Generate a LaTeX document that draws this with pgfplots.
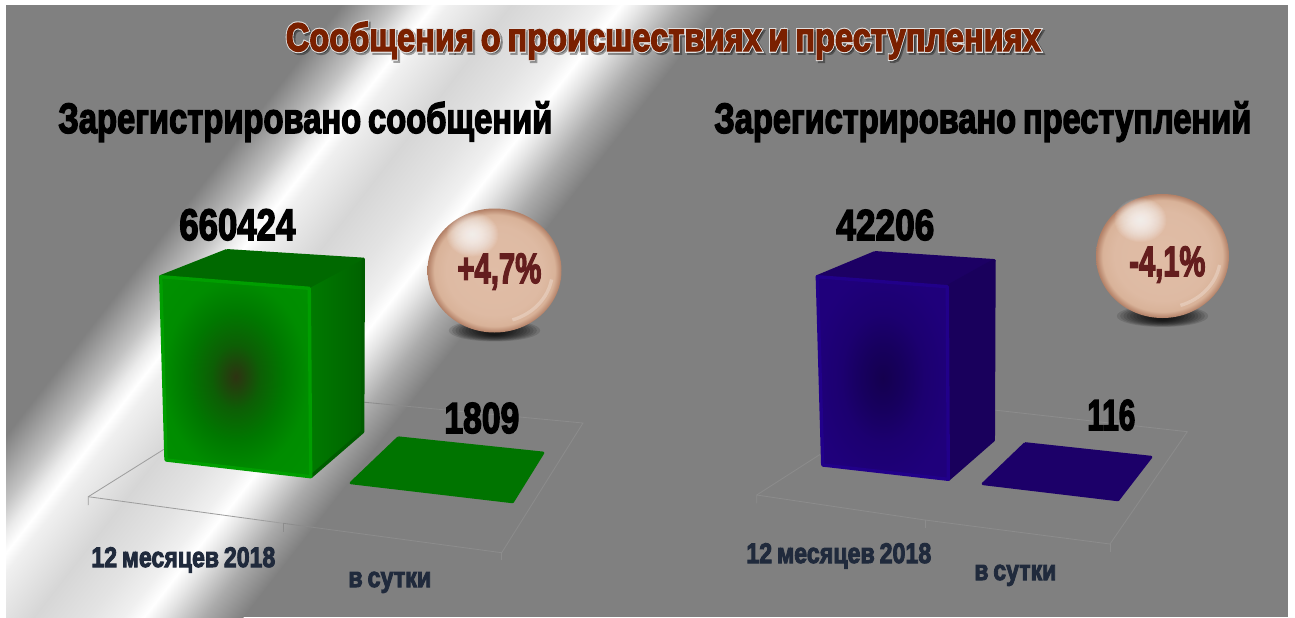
\documentclass[border=0pt]{standalone}
\usepackage{graphicx}
\usepackage{fontspec}
\usepackage{pgfplots}
\pgfplotsset{compat=1.18}
\newfontfamily\imp[UprightFont={* Bold},FakeBold=3.6,WordSpace=0.75]{Liberation Sans}
\newfontfamily\impo[UprightFont={* Bold},FakeBold=9,WordSpace=0.75]{Liberation Sans}

\definecolor{greenfront}{RGB}{0,122,0}
\definecolor{greentop}{RGB}{0,105,0}
\definecolor{greenside}{RGB}{0,98,0}
\definecolor{greenedge}{RGB}{0,158,0}
\definecolor{greendark}{RGB}{0,92,0}
\definecolor{greenflat}{RGB}{0,116,0}
\definecolor{bluetop}{RGB}{28,0,100}
\definecolor{blueside}{RGB}{25,0,92}
\definecolor{blueedge}{RGB}{33,0,138}
\definecolor{blueflat}{RGB}{28,0,105}
\definecolor{bg}{RGB}{128,128,128}
\definecolor{floorlight}{RGB}{158,158,158}
\definecolor{floorfaint}{RGB}{140,140,140}
\definecolor{navy}{RGB}{32,42,60}
\definecolor{rust}{RGB}{122,32,0}
\definecolor{wine}{RGB}{100,30,30}

% gradient stripe behind everything, 25bp..75bp is the visible range
\pgfdeclarehorizontalshading{sheen}{100bp}{
  rgb(0bp)=(.5,.5,.5); rgb(25bp)=(.5,.5,.5); rgb(31.85bp)=(.765,.765,.765);
  rgb(34.85bp)=(.92,.92,.92); rgb(37.1bp)=(1,1,1); rgb(39.1bp)=(.94,.94,.94);
  rgb(47.35bp)=(.84,.84,.84); rgb(54.6bp)=(.89,.89,.89); rgb(59.2bp)=(.94,.94,.94);
  rgb(61.85bp)=(1,1,1); rgb(64.45bp)=(.9,.9,.9); rgb(69.75bp)=(.67,.67,.67);
  rgb(75bp)=(.5,.5,.5); rgb(100bp)=(.5,.5,.5)}
\pgfdeclareradialshading{greenglow}{\pgfpointorigin}{
  rgb(0bp)=(.18,.2,.07); rgb(3bp)=(.13,.26,.05); rgb(8bp)=(.05,.37,.02);
  rgb(16bp)=(0,.47,0); rgb(24bp)=(0,.55,0); rgb(50bp)=(0,.59,0)}
\pgfdeclareradialshading{blueglow}{\pgfpointorigin}{
  rgb(0bp)=(.08,0,.31); rgb(8bp)=(.09,0,.37); rgb(16bp)=(.11,0,.44);
  rgb(26bp)=(.12,0,.48); rgb(50bp)=(.12,0,.49)}
\pgfdeclareradialshading{ballshade}{\pgfpointorigin}{
  rgb(0bp)=(.88,.74,.65); rgb(18bp)=(.87,.73,.64); rgb(22.5bp)=(.85,.7,.6);
  rgb(25bp)=(.7,.5,.4); rgb(50bp)=(.7,.5,.4)}

\pgfplotsset{panel/.style={hide axis,clip=false,disabledatascaling,
  anchor=origin,at={(0,0)},
  x={(0.6pt,0pt)},y={(0pt,-0.6pt)},
  xmin=0,xmax=1295,ymin=0,ymax=618,zmin=0}}

% x, baseline y, width in px, size in pt, colour, text
\newcommand{\lbl}[6]{\node[anchor=base west,inner sep=0pt,text=#5] at (#1,#2)
  {\resizebox{\dimexpr0.6pt*#3\relax}{\height}{\fontsize{#4}{#4}\selectfont\imp #6}};}

\newcommand{\ball}[3]{%
  \foreach \k in {1,...,12}{
    \fill[black,opacity=.12] (#1,#2+60) ellipse [x radius=49-3.3*\k, y radius=11.5-.55*\k];}
  \shade[shading=ballshade] (#1,#2) ellipse [x radius=#3, y radius=62];
  \foreach \k in {1,...,24}{
    \fill[white,opacity=.07] (#1-22,#2-36) ellipse [x radius=27-1.05*\k, y radius=23-.9*\k];}
  \draw[white,opacity=.25,line width=2pt] (#1+57.1,#2+9) arc [start angle=10,end angle=72,x radius=58,y radius=52];
}

\begin{document}
\begin{tikzpicture}
\begin{scope}[x=0.6pt,y=-0.6pt]
  \useasboundingbox (0,0) rectangle (1295,618);
  \fill[white] (0,0) rectangle (1295,618);
  \fill[bg] (6,5) rectangle (1288,617);
  \begin{scope}
    \clip (6,5) rectangle (1288,617);
    \begin{scope}[transform canvas={rotate=-37.95}]
      \shade[shading=sheen] (272,-1500) rectangle (571.8,1500);
    \end{scope}
  \end{scope}
\end{scope}

% left panel: z in thousands, bar height 184 px
\begin{axis}[panel,z={(0pt,0.16717pt)},zmax=700]
  % floor
  \addplot3[floorlight,line width=.5pt] coordinates {(88.3,505,0) (88.3,496.7,0) (166,448,0)};
  \addplot3[floorlight,line width=.5pt] coordinates {(88.3,496.7,0) (283.3,523.3,0)};
  \addplot3[floorfaint,line width=.5pt] coordinates {(283.3,523.3,0) (501.7,552.7,0) (583,423,0) (362,402,0)};
  \addplot3[floorfaint,line width=.5pt] coordinates {(283.3,523.3,0) (283.3,532,0)};
  \addplot3[floorfaint,line width=.5pt] coordinates {(501.7,552.7,0) (501.7,560,0)};
  % 660424
  \addplot3[fill=greentop,draw=greentop,line width=2pt,line join=round] coordinates {(226.7,434.7,660.424) (363.3,443.3,660.424) (309.3,472.3,660.424) (160.7,460.7,660.424) (226.7,434.7,660.424)};
  \addplot3[left color=greenfront,right color=greenside,shade,draw=none] coordinates {(309.3,472.3,660.424) (363.3,443.3,660.424) (362.7,431.7,0) (310.7,476.7,0) (309.3,472.3,660.424)};
  \addplot3[greendark,line width=2pt,line join=round,line cap=round] coordinates {(363.3,443.3,660.424) (362.7,431.7,0) (310.7,476.7,0)};
  \addplot3[shade,shading=greenglow,draw=none] coordinates {(160.7,460.7,660.424) (309.3,472.3,660.424) (310.7,476.7,0) (166,460,0) (160.7,460.7,660.424)};
  \addplot3[greenedge,line width=2pt,line join=round,line cap=round] coordinates {(166,460,0) (160.7,460.7,660.424) (309.3,472.3,660.424) (310.7,476.7,0) (166,460,0)};
  % 1809
  \addplot3[fill=greenflat,draw=greenflat,line width=1.6pt,line join=round] coordinates {(398.3,438.2,1.809) (543,453.4,1.809) (512.6,502.4,1.809) (351,483.4,1.809) (398.3,438.2,1.809)};
\end{axis}

% right panel: bar height 180 px
\begin{axis}[panel,z={(0pt,2.5589pt)},zmax=45]
  \addplot3[floorfaint,line width=.5pt] coordinates {(756.7,503.3,0) (756.7,495,0) (822.7,452.7,0)};
  \addplot3[floorfaint,line width=.5pt] coordinates {(756.7,495,0) (925,520,0) (1110,544,0) (1187.3,431.7,0) (994,410,0)};
  \addplot3[floorfaint,line width=.5pt] coordinates {(925,520,0) (925,528,0)};
  \addplot3[floorfaint,line width=.5pt] coordinates {(1110,544,0) (1110,552,0)};
  % 42206
  \addplot3[fill=bluetop,draw=bluetop,line width=2pt,line join=round] coordinates {(875,432.7,42.206) (994,440.7,42.206) (947.3,466.7,42.206) (817.3,456.7,42.206) (875,432.7,42.206)};
  \addplot3[fill=blueside,draw=blueside,line width=2pt,line join=round] coordinates {(947.3,466.7,42.206) (994,440.7,42.206) (993.3,440,0) (948.3,479.3,0) (947.3,466.7,42.206)};
  \addplot3[shade,shading=blueglow,draw=none] coordinates {(817.3,456.7,42.206) (947.3,466.7,42.206) (948.3,479.3,0) (822.7,465,0) (817.3,456.7,42.206)};
  \addplot3[blueedge,line width=2pt,line join=round,line cap=round] coordinates {(822.7,465,0) (817.3,456.7,42.206) (947.3,466.7,42.206) (948.3,479.3,0) (822.7,465,0)};
  % 116
  \addplot3[fill=blueflat,draw=blueflat,line width=1.6pt,line join=round] coordinates {(1025,444,0.116) (1151,457.6,0.116) (1118,500.4,0.116) (983,484.3,0.116) (1025,444,0.116)};
\end{axis}

\begin{scope}[x=0.6pt,y=-0.6pt]
  \ball{494.5}{270.5}{67}
  \ball{1162.5}{256}{66.5}
  % title
  \node[anchor=base west,inner sep=0pt,text=black,opacity=.35] at (287.5,53)
    {\resizebox{\dimexpr0.6pt*755\relax}{\height}{\fontsize{24}{24}\selectfont\impo Сообщения о происшествиях и преступлениях}};
  \node[anchor=base west,inner sep=0pt,text=white!88!black] at (285.5,51)
    {\resizebox{\dimexpr0.6pt*755\relax}{\height}{\fontsize{24}{24}\selectfont\impo Сообщения о происшествиях и преступлениях}};
  \lbl{285.5}{51}{755}{24}{rust}{Сообщения о происшествиях и преступлениях}
  % headings
  \lbl{58}{133}{494}{25.5}{black}{Зарегистрировано сообщений}
  \lbl{714}{133}{537}{25.5}{black}{Зарегистрировано преступлений}
  % values
  \lbl{179}{240}{116}{26.5}{black}{660424}
  \lbl{444}{433}{75}{26}{black}{1809}
  \lbl{836}{240}{98}{26}{black}{42206}
  \lbl{1087}{430}{48}{26}{black}{116}
  % changes
  \lbl{457}{283}{84}{25.5}{wine}{+4,7\%}
  \lbl{1129}{276}{76}{25.5}{wine}{-4,1\%}
  % categories
  \lbl{91}{567}{184}{17}{navy}{12 месяцев 2018}
  \lbl{348}{587}{83}{17}{navy}{в сутки}
  \lbl{746}{563}{185}{17}{navy}{12 месяцев 2018}
  \lbl{974}{580}{82}{17}{navy}{в сутки}
\end{scope}
\end{tikzpicture}
\end{document}
